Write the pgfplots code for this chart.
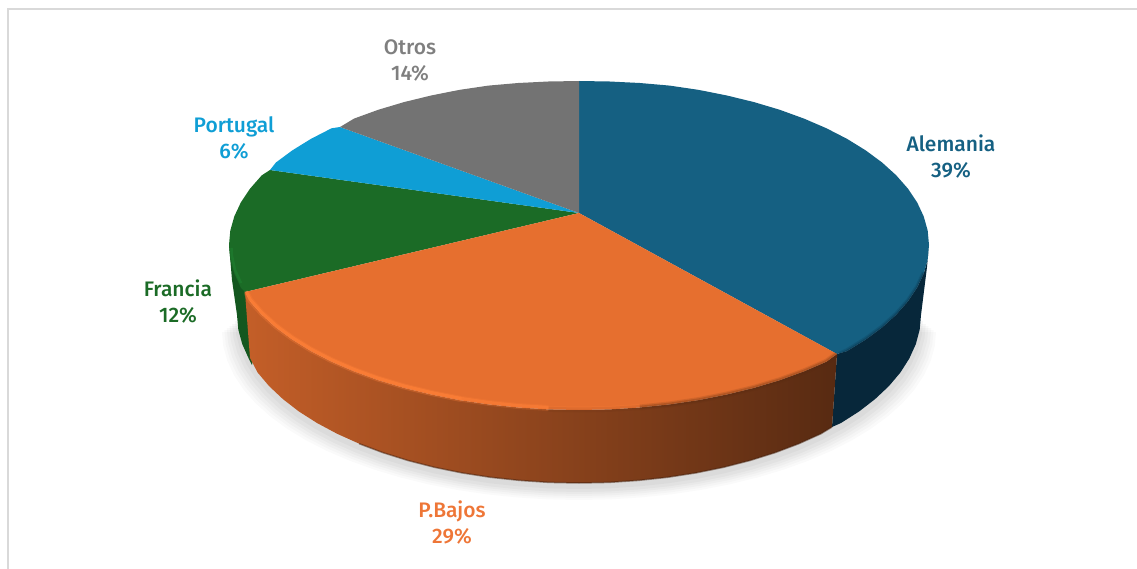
\documentclass[border=0pt]{standalone}
\usepackage{pgfplots}
\usepackage{pgfplotstable}
\usepackage{fontspec}
\setmainfont{Fira Sans Medium}
\pgfplotsset{compat=1.18}
\definecolor{cAle}{HTML}{156082}
\definecolor{cAleS}{HTML}{07273A}
\definecolor{cBaj}{HTML}{E66F2F}
\definecolor{cFra}{HTML}{1B6B26}
\definecolor{cFraS}{HTML}{14571F}
\definecolor{cPor}{HTML}{0F9ED5}
\definecolor{cOtr}{HTML}{737373}
\definecolor{lOtr}{HTML}{7F7F7F}
\definecolor{lBaj}{HTML}{EE7637}
\definecolor{lFra}{HTML}{1B6B26}
\definecolor{hiBaj}{HTML}{FF8038}
\definecolor{hiFra}{HTML}{1F8030}
% front rim of the top face, right part
\pgfplotstableread{
x y
837 354
826.5 361.7
804.0 371.4
779.8 380.2
754.0 387.9
726.9 394.5
698.7 400.1
669.6 404.4
639.8 407.5
}\frontR
% front rim, middle part
\pgfplotstableread{
x y
639.8 407.5
609.5 409.4
579 410
548.5 409.4
}\frontM
% front rim, fading highlight
\pgfplotstableread{
x y
548.5 409.4
518.2 407.5
488.4 404.4
459.3 400.1
}\frontF
% front rim, left part
\pgfplotstableread{
x y
459.3 400.1
431.1 394.5
404.0 387.9
378.2 380.2
354.0 371.4
331.5 361.7
310.9 351.1
292.3 339.6
275.9 327.5
261.8 314.7
250.1 301.4
247 295
}\frontL
% right rim of the top face
\pgfplotstableread{
x y
923.7 273.6
917.1 287.7
907.9 301.4
896.2 314.7
882.1 327.5
865.7 339.6
847.1 351.1
839 355
}\rimR
% lower rim of the side, whole front
\pgfplotstableread{
x y
921 315
919.7 329.6
915.8 344.2
909.3 358.5
900.4 372.5
889 386
875.2 399
859.2 411.4
841 423
820.8 433.8
798.8 443.7
775.2 452.6
750 460.5
723.5 467.3
696 472.9
667.5 477.3
638.4 480.4
608.8 482.4
579 483
549.2 482.4
519.6 480.4
490.5 477.3
462 472.9
434.5 467.3
408 460.5
382.8 452.6
359.2 443.7
337.2 433.8
317 423
298.8 411.4
282.8 399
269 386
257.6 372.5
248.7 358.5
242.2 344
238.3 329.6
237 315
}\lowerRim
\begin{document}
\begin{tikzpicture}
\path[use as bounding box] (0,0) rectangle (1137pt,569pt);
\begin{axis}[
  at={(0,0)}, anchor=south west, scale only axis,
  width=1137pt, height=569pt,
  xmin=0, xmax=1137, ymin=0, ymax=569, y dir=reverse,
  hide axis, clip=true,
]
% frame
\addplot[draw=black!15, line width=2pt] coordinates {(8,569) (8,9) (1137,9)};
% soft shadow
\addplot[draw=none, fill=black, fill opacity=0.02] table[x expr=579+(\thisrow{x}-579)*1.044, y expr=\thisrow{y}+17] {\lowerRim};
\addplot[draw=none, fill=black, fill opacity=0.02] table[x expr=579+(\thisrow{x}-579)*1.037, y expr=\thisrow{y}+15] {\lowerRim};
\addplot[draw=none, fill=black, fill opacity=0.025] table[x expr=579+(\thisrow{x}-579)*1.030, y expr=\thisrow{y}+13] {\lowerRim};
\addplot[draw=none, fill=black, fill opacity=0.025] table[x expr=579+(\thisrow{x}-579)*1.022, y expr=\thisrow{y}+11] {\lowerRim};
\addplot[draw=none, fill=black, fill opacity=0.03] table[x expr=579+(\thisrow{x}-579)*1.014, y expr=\thisrow{y}+9] {\lowerRim};
\addplot[draw=none, fill=black, fill opacity=0.03] table[x expr=579+(\thisrow{x}-579)*1.006, y expr=\thisrow{y}+6] {\lowerRim};
% Francia side
\addplot[draw=none, fill=cFraS] coordinates {(229,245) (232,280) (237,315) (238.3,329.6) (242.2,344) (248.7,358.5) (252,365) (260,320) (245,292)};
% Alemania side
\addplot[draw=none, fill=cAleS] coordinates {(929,245) (927,267) (921,315) (919.7,329.6) (915.8,344.2) (909.3,358.5) (900.4,372.5) (889,386) (875.2,399) (859.2,411.4) (841,423) (832,427) (837,354) (847.1,351.1) (865.7,339.6) (882.1,327.5) (896.2,314.7) (907.9,301.4) (917.1,287.7) (923.7,273.6) (927.7,259.4)};
% P.Bajos side
\addplot[draw=none, left color=cBaj!85!black, middle color=cBaj!60!black, right color=cBaj!38!black] coordinates {
 (245,292) (250.1,301.4) (261.8,314.7) (275.9,327.5) (292.3,339.6) (310.9,351.1) (331.5,361.7) (354,371.4) (378.2,380.2) (404,387.9) (431.1,394.5) (459.3,400.1) (488.4,404.4) (518.2,407.5) (548.5,409.4) (579,410) (609.5,409.4) (639.8,407.5) (669.6,404.4) (698.7,400.1) (726.9,394.5) (754,387.9) (779.8,380.2) (804,371.4) (826.5,361.7) (837,354)
 (832,427) (820.8,433.8) (798.8,443.7) (775.2,452.6) (750,460.5) (723.5,467.3) (696,472.9) (667.5,477.3) (638.4,480.4) (608.8,482.4) (579,483) (549.2,482.4) (519.6,480.4) (490.5,477.3) (462,472.9) (434.5,467.3) (408,460.5) (382.8,452.6) (359.2,443.7) (337.2,433.8) (317,423) (298.8,411.4) (282.8,399) (269,386) (257.6,372.5) (250,358)};
% lower dark rim of the P.Bajos side
\addplot[draw=cBaj!30!black, line width=1.5pt, opacity=0.5] coordinates {(832,427) (820.8,433.8) (798.8,443.7) (775.2,452.6) (750,460.5) (723.5,467.3) (696,472.9) (667.5,477.3) (638.4,480.4) (608.8,482.4) (579,483) (549.2,482.4) (519.6,480.4) (490.5,477.3) (462,472.9) (434.5,467.3) (408,460.5) (382.8,452.6) (359.2,443.7)};
% top faces
\addplot[draw=none, fill=cAle] coordinates {(579,213) (579,81) (609.5,81.5) (639.8,83) (669.6,85.6) (698.7,89.9) (726.9,95.5) (754,102.1) (779.8,109.8) (804,118.6) (826.5,128.3) (847.1,138.9) (865.7,150.4) (882.1,162.5) (896.2,175.3) (907.9,188.6) (917.1,202.3) (923.7,216.4) (927.7,230.6) (929,245) (927.7,259.4) (923.7,273.6) (917.1,287.7) (907.9,301.4) (896.2,314.7) (882.1,327.5) (865.7,339.6) (847.1,351.1) (837,354)};
\addplot[draw=none, fill=cFra] coordinates {(579,213) (245,292) (240.9,287.7) (234.3,273.6) (230.3,259.4) (229,245) (230.3,230.6) (234.3,216.4) (240.9,202.3) (250.1,188.6) (261.8,175.3) (270,170)};
\addplot[draw=none, fill=cPor] coordinates {(579,213) (270,170) (275.9,162.5) (292.3,150.4) (310.9,138.9) (331.5,128.3) (340,127)};
\addplot[draw=none, fill=cOtr] coordinates {(579,213) (340,127) (354,118.6) (378.2,109.8) (404,102.1) (431.1,95.5) (459.3,89.9) (488.4,85.6) (518.2,83) (548.5,81.5) (579,81)};
\addplot[draw=none, fill=cBaj] coordinates {(579,213) (837,354) (826.5,361.7) (804,371.4) (779.8,380.2) (754,387.9) (726.9,394.5) (698.7,400.1) (669.6,404.4) (639.8,407.5) (609.5,409.4) (579,410) (548.5,409.4) (518.2,407.5) (488.4,404.4) (459.3,400.1) (431.1,394.5) (404,387.9) (378.2,380.2) (354,371.4) (331.5,361.7) (310.9,351.1) (292.3,339.6) (275.9,327.5) (261.8,314.7) (250.1,301.4) (245,292)};
% bevels: dark blur on the right, highlight on the left
\addplot[draw=cAleS, line width=4pt, opacity=0.18] table[x=x, y expr=\thisrow{y}-1] {\rimR};
\addplot[draw=cAleS, line width=2pt, opacity=0.30] table[x=x, y expr=\thisrow{y}-0.5] {\rimR};
\addplot[draw=cBaj!38!black, line width=6pt, opacity=0.14] table[x=x, y=y] {\frontR};
\addplot[draw=cBaj!38!black, line width=3.5pt, opacity=0.25] table[x=x, y=y] {\frontR};
\addplot[draw=cBaj!38!black, line width=5pt, opacity=0.10] table[x=x, y=y] {\frontM};
% highlight, fading toward the middle
\addplot[draw=hiBaj, line width=6pt, opacity=0.30, line cap=round] table[x=x, y expr=\thisrow{y}-1.5] {\frontL};
\addplot[draw=hiBaj, line width=3pt, opacity=0.70, line cap=round] table[x=x, y expr=\thisrow{y}-2] {\frontL};
\addplot[draw=hiBaj, line width=6pt, opacity=0.22] table[x=x, y expr=\thisrow{y}-1.5] {\frontF};
\addplot[draw=hiBaj, line width=3pt, opacity=0.50] table[x=x, y expr=\thisrow{y}-2] {\frontF};
\addplot[draw=hiBaj, line width=3pt, opacity=0.20] table[x=x, y expr=\thisrow{y}-2] {\frontM};
\addplot[draw=hiFra, line width=2.5pt, opacity=0.6] coordinates {(241,283) (235,270) (232,256) (231.5,248)};
% labels
\node[font=\fontsize{21}{26}\selectfont, text=lOtr, align=center] at (axis cs:410,60.5) {Otros\\14\%};
\node[font=\fontsize{21}{26}\selectfont, text=cPor, align=center] at (axis cs:234,137.5) {Portugal\\6\%};
\node[font=\fontsize{21}{26}\selectfont, text=lFra, align=center] at (axis cs:178,302) {Francia\\12\%};
\node[font=\fontsize{21}{26}\selectfont, text=cAle, align=center] at (axis cs:951,157) {Alemania\\39\%};
\node[font=\fontsize{21}{26}\selectfont, text=lBaj, align=center] at (axis cs:452,523) {P.Bajos\\29\%};
\end{axis}
\end{tikzpicture}
\end{document}
